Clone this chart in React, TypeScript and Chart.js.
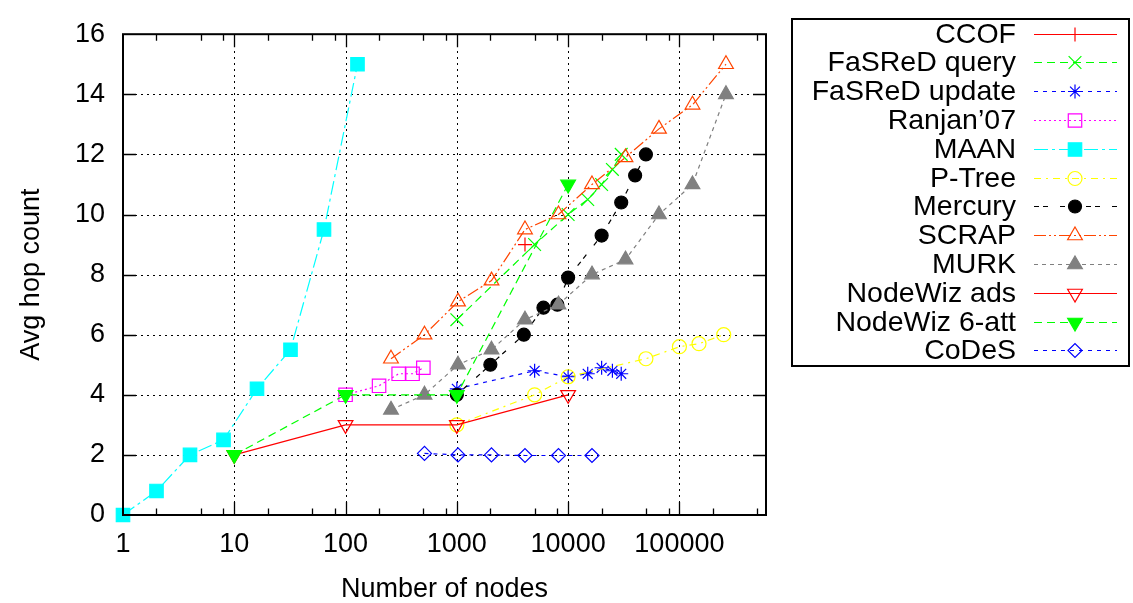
import React, { useEffect, useRef } from 'react';
import { Chart, registerables } from 'chart.js';
import { drawPoint } from 'chart.js/helpers';

Chart.register(...registerables);

// ---------- data ----------
const xTickValues = [1, 10, 100, 1000, 10000, 100000];
const yTickStep = 2;

const ccofX = [4096];
const ccofY = [9];

const fasredQueryX = [1000, 5000, 10000, 15000, 20000, 25000, 30000];
const fasredQueryY = [6.5, 9, 10, 10.5, 11, 11.5, 12];

const fasredUpdateX = [1000, 5000, 10000, 15000, 20000, 25000, 30000];
const fasredUpdateY = [4.2, 4.8, 4.6, 4.7, 4.9, 4.8, 4.7];

const ranjanX = [100, 200, 300, 400, 500];
const ranjanY = [4, 4.3, 4.7, 4.7, 4.9];

const maanX = [1, 2, 4, 8, 16, 32, 64, 128];
const maanY = [0, 0.8, 2, 2.5, 4.2, 5.5, 9.5, 15];

const ptreeX = [1000, 5000, 10000, 50000, 100000, 150000, 250000];
const ptreeY = [3, 4, 4.6, 5.2, 5.6, 5.7, 6];

const mercuryX = [1000, 2000, 4000, 6000, 8000, 10000, 20000, 30000, 40000, 50000];
const mercuryY = [4, 5, 6, 6.9, 7, 7.9, 9.3, 10.4, 11.3, 12];

const scrapX = [256, 512, 1024, 2048, 4096, 8192, 16384, 32768, 65536, 131072, 262144];
const scrapY = [5.2, 6, 7.1, 7.8, 9.5, 10, 11, 11.9, 12.85, 13.65, 15];

const murkX = [256, 512, 1024, 2048, 4096, 8192, 16384, 32768, 65536, 131072, 262144];
const murkY = [3.5, 4, 5, 5.5, 6.5, 7, 8, 8.5, 10, 11, 14];

const nodewizAdsX = [10, 100, 1000, 10000];
const nodewizAdsY = [2, 3, 3, 4];

const nodewiz6X = [10, 100, 1000, 10000];
const nodewiz6Y = [2, 4, 4, 11];

const codesX = [512, 1024, 2048, 4096, 8192, 16384];
const codesY = [2.05, 2, 2, 1.98, 1.98, 1.98];

// ---------- styles ----------
const FONT_FAMILY = '"Liberation Sans", Arial, Helvetica, sans-serif';
const FONT_SIZE = 27;
const LEGEND_FONT_SIZE = 28.5;

type SeriesDef = {
  label: string;
  xs: number[];
  ys: number[];
  color: string;
  dash: number[];
  style: string;
  radius: number;
  rotation: number;
  filled: boolean;
};

const series: SeriesDef[] = [
  { label: 'CCOF', xs: ccofX, ys: ccofY, color: '#ff0000', dash: [], style: 'cross', radius: 7, rotation: 0, filled: false },
  { label: 'FaSReD query', xs: fasredQueryX, ys: fasredQueryY, color: '#00ff00', dash: [8, 5], style: 'crossRot', radius: 9, rotation: 0, filled: false },
  { label: 'FaSReD update', xs: fasredUpdateX, ys: fasredUpdateY, color: '#0000ff', dash: [4, 5], style: 'star', radius: 7, rotation: 0, filled: false },
  { label: 'Ranjan\u201907', xs: ranjanX, ys: ranjanY, color: '#ff00ff', dash: [2, 3], style: 'rect', radius: 9.5, rotation: 0, filled: false },
  { label: 'MAAN', xs: maanX, ys: maanY, color: '#00ffff', dash: [14, 4, 3, 4], style: 'rect', radius: 9.5, rotation: 0, filled: true },
  { label: 'P-Tree', xs: ptreeX, ys: ptreeY, color: '#ffff00', dash: [7, 5, 2, 5], style: 'circle', radius: 7, rotation: 0, filled: false },
  { label: 'Mercury', xs: mercuryX, ys: mercuryY, color: '#000000', dash: [5, 4, 5, 12], style: 'circle', radius: 6.5, rotation: 0, filled: true },
  { label: 'SCRAP', xs: scrapX, ys: scrapY, color: '#ff4500', dash: [12, 3, 2, 3, 2, 3], style: 'triangle', radius: 8.5, rotation: 0, filled: false },
  { label: 'MURK', xs: murkX, ys: murkY, color: '#808080', dash: [4, 4], style: 'triangle', radius: 8.5, rotation: 0, filled: true },
  { label: 'NodeWiz ads', xs: nodewizAdsX, ys: nodewizAdsY, color: '#ff0000', dash: [], style: 'triangle', radius: 8.5, rotation: 180, filled: false },
  { label: 'NodeWiz 6-att', xs: nodewiz6X, ys: nodewiz6Y, color: '#00ff00', dash: [8, 5], style: 'triangle', radius: 8.5, rotation: 180, filled: true },
  { label: 'CoDeS', xs: codesX, ys: codesY, color: '#0000ff', dash: [4, 5], style: 'rectRot', radius: 7, rotation: 0, filled: false },
];

const gridPlugin = {
  id: 'dottedGrid',
  beforeDatasetsDraw(chart: any) {
    const ctx: CanvasRenderingContext2D = chart.ctx;
    const { left, right, top, bottom } = chart.chartArea;
    const xs = chart.scales.x;
    const ys = chart.scales.y;
    ctx.save();
    ctx.strokeStyle = '#000';
    ctx.lineWidth = 1;
    ctx.setLineDash([2, 4]);
    ctx.beginPath();
    for (let v = yTickStep; v < 16; v += yTickStep) {
      const py = Math.round(ys.getPixelForValue(v)) + 0.5;
      ctx.moveTo(left, py);
      ctx.lineTo(right, py);
    }
    for (const v of xTickValues) {
      if (v <= xs.min) continue;
      const px = Math.round(xs.getPixelForValue(v)) + 0.5;
      ctx.moveTo(px, bottom);
      ctx.lineTo(px, top);
    }
    ctx.stroke();
    ctx.restore();
  },
};

const frameAndLegendPlugin = {
  id: 'frameAndLegend',
  afterDraw(chart: any) {
    const ctx: CanvasRenderingContext2D = chart.ctx;
    const { left, right, top, bottom } = chart.chartArea;
    const xs = chart.scales.x;
    const ys = chart.scales.y;
    ctx.save();
    ctx.setLineDash([]);
    ctx.strokeStyle = '#000';
    ctx.lineWidth = 1.3;
    const major = 13;
    const minor = 6.5;
    ctx.beginPath();
    for (let v = yTickStep; v < 16; v += yTickStep) {
      const py = Math.round(ys.getPixelForValue(v)) + 0.5;
      ctx.moveTo(left, py); ctx.lineTo(left + major, py);
      ctx.moveTo(right, py); ctx.lineTo(right - major, py);
    }
    const xmax = xs.max;
    for (let dec = 1; dec <= xmax; dec *= 10) {
      if (dec > 1) {
        const px = Math.round(xs.getPixelForValue(dec)) + 0.5;
        ctx.moveTo(px, bottom); ctx.lineTo(px, bottom - major);
        ctx.moveTo(px, top); ctx.lineTo(px, top + major);
      }
      for (const m of [2, 5, 8]) {
        const v = dec * m;
        if (v >= xmax) continue;
        const px = Math.round(xs.getPixelForValue(v)) + 0.5;
        ctx.moveTo(px, bottom); ctx.lineTo(px, bottom - minor);
        ctx.moveTo(px, top); ctx.lineTo(px, top + minor);
      }
    }
    ctx.stroke();
    ctx.lineWidth = 2;
    ctx.strokeRect(left, top, right - left, bottom - top);

    // legend
    const boxL = 792, boxT = 19, boxR = 1129, boxB = 366;
    ctx.lineWidth = 2;
    ctx.strokeRect(boxL, boxT, boxR - boxL, boxB - boxT);
    ctx.font = `${LEGEND_FONT_SIZE}px ${FONT_FAMILY}`;
    ctx.textAlign = 'right';
    ctx.textBaseline = 'middle';
    const rowStep = 28.8;
    const row0 = 33.5;
    series.forEach((s, i) => {
      const yRow = Math.round(row0 + i * rowStep) + 0.5;
      ctx.fillStyle = '#000';
      ctx.fillText(s.label, 1016, yRow + 1);
      ctx.lineWidth = 1.2;
      ctx.strokeStyle = s.color;
      ctx.setLineDash(s.dash);
      ctx.beginPath();
      ctx.moveTo(1034, yRow);
      ctx.lineTo(1117, yRow);
      ctx.stroke();
      ctx.setLineDash([]);
      ctx.fillStyle = s.filled ? s.color : 'rgba(0,0,0,0)';
      ctx.strokeStyle = s.color;
      ctx.lineWidth = 1.2;
      drawPoint(ctx, { pointStyle: s.style, rotation: s.rotation, radius: s.radius, borderWidth: 1.2 } as any, 1075, yRow);
    });
    ctx.restore();
  },
};

export default function App() {
  const canvasRef = useRef<HTMLCanvasElement | null>(null);

  useEffect(() => {
    const canvas = canvasRef.current;
    if (!canvas) return;
    const font = { family: FONT_FAMILY, size: FONT_SIZE };
    const titleFont = { family: FONT_FAMILY, size: FONT_SIZE, lineHeight: 1 };
    const datasets = series.map((s, i) => ({
      label: s.label,
      data: s.xs.map((x, k) => ({ x, y: s.ys[k] })),
      showLine: true,
      borderColor: s.color,
      backgroundColor: s.filled ? s.color : 'rgba(0,0,0,0)',
      borderWidth: 1.2,
      borderDash: s.dash,
      pointStyle: s.style,
      pointRadius: s.radius,
      pointHoverRadius: s.radius,
      pointRotation: s.rotation,
      pointBorderWidth: 1.2,
      pointBorderColor: s.color,
      pointBackgroundColor: s.filled ? s.color : 'rgba(0,0,0,0)',
      tension: 0,
      clip: false,
      order: -i,
    }));

    const chart = new Chart(canvas, {
      type: 'scatter',
      data: { datasets },
      options: {
        animation: false,
        responsive: false,
        devicePixelRatio: 1,
        events: [],
        layout: { padding: { left: 0, right: 367, top: 19, bottom: 0 } },
        plugins: {
          legend: { display: false },
          tooltip: { enabled: false },
        },
        scales: {
          x: {
            type: 'logarithmic',
            min: 1,
            max: 600000,
            afterBuildTicks: (scale: any) => {
              scale.ticks = xTickValues.map((v) => ({ value: v }));
            },
            afterFit: (scale: any) => {
              scale.height = 88;
            },
            ticks: {
              callback: (v: any) => String(v),
              font,
              color: '#000',
              padding: 13,
              maxRotation: 0,
              autoSkip: false,
            },
            grid: { display: false, drawTicks: false },
            border: { display: false },
            title: {
              display: true,
              text: 'Number of nodes',
              font: titleFont,
              color: '#000',
              padding: { top: 0, bottom: 0 },
            },
          },
          y: {
            type: 'linear',
            min: 0,
            max: 16,
            afterFit: (scale: any) => {
              scale.width = 123;
            },
            ticks: {
              stepSize: yTickStep,
              font,
              color: '#000',
              padding: 18,
            },
            grid: { display: false, drawTicks: false },
            border: { display: false },
            title: {
              display: true,
              text: 'Avg hop count',
              font: titleFont,
              color: '#000',
              padding: { top: 18, bottom: 0 },
            },
          },
        },
      } as any,
      plugins: [gridPlugin, frameAndLegendPlugin],
    });
    return () => chart.destroy();
  }, []);

  return (
    <div style={{ position: 'absolute', left: 0, top: 0, width: 1133, height: 603, background: '#fff' }}>
      <canvas ref={canvasRef} width={1133} height={603} style={{ display: 'block', width: 1133, height: 603 }} />
    </div>
  );
}
